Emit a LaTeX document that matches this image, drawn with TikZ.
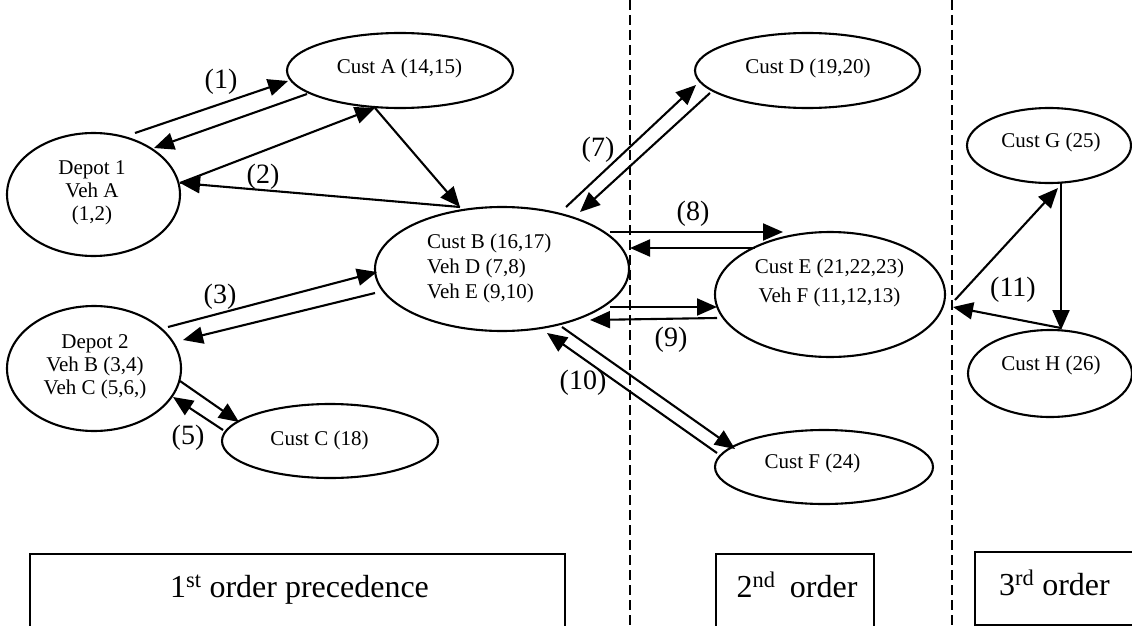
\documentclass[tikz,border=0pt]{standalone}
\usepackage{fontspec}
\setmainfont{Liberation Serif}
\usetikzlibrary{shapes.geometric,arrows.meta}
\begin{document}
\begin{tikzpicture}[x=1pt,y=-1pt,
  ell/.style={draw, ellipse, line width=2.1pt, inner sep=0pt},
  txt/.style={font=\fontsize{21}{23}\selectfont, align=center, inner sep=0pt},
  lbl/.style={font=\fontsize{28}{30}\selectfont, inner sep=0pt},
  boxtxt/.style={font=\fontsize{32}{34}\selectfont, inner sep=0pt, anchor=base},
  arr/.style={line width=2.1pt, -{Triangle[length=20pt,width=17pt]}},
  sep/.style={line width=2pt, dash pattern=on 10pt off 5pt},
  frame/.style={line width=2.1pt}]
\useasboundingbox (0,0) rectangle (1132,626);

% separators
\coordinate (s1t) at (630,0);
\coordinate (s1b) at (630,626);
\coordinate (s2t) at (952,0);
\coordinate (s2b) at (952,626);
\draw[sep] (s1t) -- (s1b);
\draw[sep] (s2t) -- (s2b);

% ellipses
\node[ell, minimum width=173pt, minimum height=123pt] (D1) at (93.5,194.5) {};
\node[ell, minimum width=174pt, minimum height=125pt] (D2) at (94,368.5) {};
\node[ell, minimum width=226pt, minimum height=75pt]  (A)  at (400,70.5) {};
\node[ell, minimum width=254pt, minimum height=124pt] (B)  at (502,269) {};
\node[ell, minimum width=216pt, minimum height=74pt]  (C)  at (330,441) {};
\node[ell, minimum width=225pt, minimum height=75pt]  (D)  at (807.5,70.5) {};
\node[ell, minimum width=230pt, minimum height=125pt] (E)  at (830,294.5) {};
\node[ell, minimum width=218pt, minimum height=74pt]  (F)  at (824,467) {};
\node[ell, minimum width=164pt, minimum height=75pt]  (G)  at (1049,145.5) {};
\node[ell, minimum width=164pt, minimum height=87pt]  (H)  at (1050,373.5) {};

% texts in ellipses
\node[txt] (tD1) at (92,192.5) {Depot 1\\Veh A\\(1,2)};
\node[txt] (tD2) at (95,367) {Depot 2\\Veh B (3,4)\\Veh C (5,6,)};
\node[txt] (tA) at (399.5,68) {Cust A (14,15)};
\node[txt, align=left, anchor=west, font=\fontsize{21}{25}\selectfont] (tB) at (427,268) {Cust B (16,17)\\Veh D (7,8)\\Veh E (9,10)};
\node[txt] (tC) at (319.5,440) {Cust C (18)};
\node[txt] (tD) at (808,68) {Cust D (19,20)};
\node[txt, font=\fontsize{21}{29}\selectfont] (tE) at (829.5,282.5) {Cust E (21,22,23)\\Veh F (11,12,13)};
\node[txt] (tF) at (812.5,463) {Cust F (24)};
\node[txt] (tG) at (1051,142) {Cust G (25)};
\node[txt] (tH) at (1051,365) {Cust H (26)};

% arrows
\draw[arr] ([shift={(41.5,-61.5)}]D1.center) -- ([shift={(-112,10.5)}]A.center);
\draw[arr] ([shift={(-93,23.5)}]A.center) -- ([shift={(60.5,-46.5)}]D1.center);
\draw[arr] ([shift={(86.5,-11.5)}]D1.center) -- ([shift={(-25,37.5)}]A.center);
\draw[arr] ([shift={(-25,37.5)}]A.center) -- ([shift={(-42,-62)}]B.center);
\draw[arr] ([shift={(-42,-62)}]B.center) -- ([shift={(86.5,-11.5)}]D1.center);
\draw[arr] ([shift={(74,-41.5)}]D2.center) -- ([shift={(-125,3)}]B.center);
\draw[arr] ([shift={(-127,24)}]B.center) -- ([shift={(89,-28.5)}]D2.center);
\draw[arr] ([shift={(86,12.5)}]D2.center) -- ([shift={(-91,-19)}]C.center);
\draw[arr] ([shift={(-107,-11)}]C.center) -- ([shift={(79,28.5)}]D2.center);
\draw[arr] ([shift={(64,-62)}]B.center) -- ([shift={(-111.5,14.5)}]D.center);
\draw[arr] ([shift={(-97.5,22.5)}]D.center) -- ([shift={(78,-57)}]B.center);
\draw[arr] ([shift={(108,-37)}]B.center) -- ([shift={(-47,-62.5)}]E.center);
\draw[arr] ([shift={(-75,-46.5)}]E.center) -- ([shift={(128,-21)}]B.center);
\draw[arr] ([shift={(108,38)}]B.center) -- ([shift={(-113,12.5)}]E.center);
\draw[arr] ([shift={(-113,23.5)}]E.center) -- ([shift={(88,51)}]B.center);
\draw[arr] ([shift={(60,58)}]B.center) -- ([shift={(-89,-18)}]F.center);
\draw[arr] ([shift={(-107,-14)}]F.center) -- ([shift={(45,64)}]B.center);
\draw[arr] ([shift={(125,5.5)}]E.center) -- ([shift={(9,42.5)}]G.center);
\draw[arr] ([shift={(12,37.5)}]G.center) -- ([shift={(11,-43.5)}]H.center);
\draw[arr] ([shift={(11,-45.5)}]H.center) -- ([shift={(123,12.5)}]E.center);

% labels
\node[lbl] (l1) at (221,82) {(1)};
\node[lbl] (l2) at (263,177) {(2)};
\node[lbl] (l3) at (220,297) {(3)};
\node[lbl] (l5) at (188,438) {(5)};
\node[lbl] (l7) at (598,150) {(7)};
\node[lbl] (l8) at (693,214) {(8)};
\node[lbl] (l9) at (671,340) {(9)};
\node[lbl] (l10) at (583,383) {(10)};
\node[lbl] (l11) at (1013,290) {(11)};

% bottom boxes
\draw[frame] (30,640) -- (30,554) -- (565,554) -- (565,640);
\draw[frame] (716,640) -- (716,554) -- (874,554) -- (874,640);
\draw[frame] (1140,625) -- (975,625) -- (975,552) -- (1140,552);
\node[boxtxt] (b1) at (299.5,597) {1\textsuperscript{st} order precedence};
\node[boxtxt] (b2) at (797,597) {2\textsuperscript{nd}\hspace{0.45em}order};
\node[boxtxt] (b3) at (1054.5,595) {3\textsuperscript{rd} order};
\end{tikzpicture}
\end{document}
